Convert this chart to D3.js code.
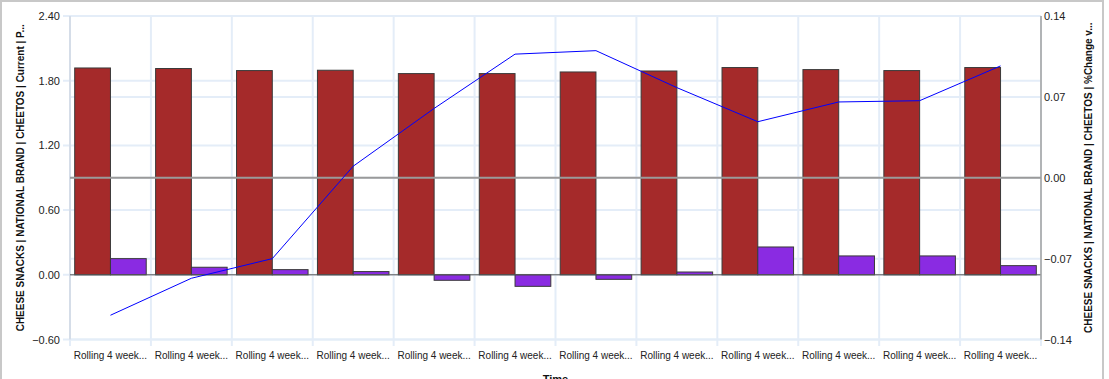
<!DOCTYPE html>
<html><head><meta charset="utf-8">
<script src="https://cdn.jsdelivr.net/npm/d3@7"></script>
<style>
html,body{margin:0;padding:0;background:#fff;overflow:hidden;}
svg{display:block;font-family:"Liberation Sans",Arial,sans-serif;}
</style></head>
<body><svg id="c" width="1109" height="379"></svg>
<script>
const categories = ["Rolling 4 week...","Rolling 4 week...","Rolling 4 week...","Rolling 4 week...","Rolling 4 week...","Rolling 4 week...","Rolling 4 week...","Rolling 4 week...","Rolling 4 week...","Rolling 4 week...","Rolling 4 week...","Rolling 4 week..."];
const currentPrice = [1.918,1.913,1.894,1.897,1.866,1.866,1.881,1.890,1.922,1.903,1.894,1.922];
const changeBars = [0.150,0.070,0.048,0.030,-0.051,-0.107,-0.042,0.026,0.258,0.175,0.175,0.085];
const pctChange = [-0.119,-0.087,-0.070,0.010,0.060,0.107,0.110,0.078,0.0485,0.0656,0.0667,0.0968];
const leftTicks = [-0.60,0.00,0.60,1.20,1.80,2.40];
const rightTicks = [-0.14,-0.07,0.00,0.07,0.14];
const leftTitle = "CHEESE SNACKS | NATIONAL BRAND | CHEETOS | Current | P...";
const rightTitle = "CHEESE SNACKS | NATIONAL BRAND | CHEETOS | %Change v...";
const xTitle = "Time";

const svg = d3.select("#c");
const L = 70, R = 1041, T = 16, B = 339.5;
const idx = categories.map((d,i)=>i);
const x = d3.scaleBand().domain(idx).range([L,R]).paddingInner(0.116).paddingOuter(0.058);
const xs = d3.scaleBand().domain([0,1]).range([0,x.bandwidth()]);
const yL = d3.scaleLinear().domain([-0.6,2.4]).range([B,T]);
const yR = d3.scaleLinear().domain([-0.14,0.14]).range([B,T]);
const step = (R-L)/categories.length;

// frame
svg.append("rect").attr("x",1).attr("y",1).attr("width",1102).attr("height",400)
  .attr("fill","none").attr("stroke","#c8c8c8").attr("stroke-width",2);

const grid = svg.append("g").attr("stroke","#e4edf8").attr("stroke-width",2);
leftTicks.forEach(t=>grid.append("line").attr("x1",63).attr("x2",R).attr("y1",yL(t)).attr("y2",yL(t)));
rightTicks.forEach(t=>grid.append("line").attr("x1",L).attr("x2",R).attr("y1",yR(t)).attr("y2",yR(t)));
for(let i=0;i<=categories.length;i++){
  const xx = L + i*step;
  grid.append("line").attr("x1",xx).attr("x2",xx).attr("y1",T).attr("y2",346);
}
// left axis line
svg.append("line").attr("x1",L).attr("x2",L).attr("y1",T).attr("y2",B).attr("stroke","#d5dde8").attr("stroke-width",2);

// bars
const g = svg.append("g");
g.selectAll("rect.cur").data(currentPrice).join("rect")
  .attr("x",(d,i)=>x(i)+xs(0)).attr("width",xs.bandwidth())
  .attr("y",d=>yL(Math.max(0,d))).attr("height",d=>Math.abs(yL(d)-yL(0)))
  .attr("fill","#a52a2a").attr("stroke","#3a3a3a").attr("stroke-width",1);
g.selectAll("rect.chg").data(changeBars).join("rect")
  .attr("x",(d,i)=>x(i)+xs(1)).attr("width",xs.bandwidth())
  .attr("y",d=>yL(Math.max(0,d))).attr("height",d=>Math.abs(yL(d)-yL(0)))
  .attr("fill","#8a2be2").attr("stroke","#3a3a3a").attr("stroke-width",1);

// baseline left zero
svg.append("line").attr("x1",L).attr("x2",R).attr("y1",yL(0)).attr("y2",yL(0)).attr("stroke","#555").attr("stroke-width",1);
// right zero line
svg.append("line").attr("x1",L).attr("x2",R).attr("y1",yR(0)).attr("y2",yR(0)).attr("stroke","#9a9a9a").attr("stroke-width",2);

// line
const line = d3.line().x((d,i)=>x(i)+x.bandwidth()/2).y(d=>yR(d));
svg.append("path").datum(pctChange).attr("d",line).attr("fill","none").attr("stroke","#0000ff").attr("stroke-width",1);

// right axis line
svg.append("line").attr("x1",R).attr("x2",R).attr("y1",T).attr("y2",B).attr("stroke","#a0a0a0").attr("stroke-width",1.5);

// tick labels
const axL = d3.axisLeft(yL).tickValues(leftTicks).tickFormat(d3.format(".2f")).tickSize(0).tickPadding(10);
const gl = svg.append("g").attr("transform",`translate(${L},0)`).call(axL);
gl.select(".domain").remove();
gl.selectAll("text").attr("font-size",11).attr("fill","#222").attr("font-family","Liberation Sans, Arial, sans-serif");
const axR = d3.axisRight(yR).tickValues(rightTicks).tickFormat(d3.format(".2f")).tickSize(0).tickPadding(3);
const gr = svg.append("g").attr("transform",`translate(${R},0)`).call(axR);
gr.select(".domain").remove();
gr.selectAll("text").attr("font-size",11).attr("fill","#222").attr("font-family","Liberation Sans, Arial, sans-serif");

const axB = d3.axisBottom(x).tickFormat(i=>categories[i]).tickSize(0).tickPadding(12);
const gb = svg.append("g").attr("transform",`translate(0,${B})`).call(axB);
gb.select(".domain").remove();
gb.selectAll("text").attr("font-size",10).attr("fill","#222").attr("font-family","Liberation Sans, Arial, sans-serif");

// titles
svg.append("text").attr("transform",`translate(24,${(T+B)/2}) rotate(-90)`).attr("text-anchor","middle")
  .attr("font-size",10).attr("font-weight","bold").attr("fill","#111").text(leftTitle);
svg.append("text").attr("transform",`translate(1092,${(T+B)/2}) rotate(-90)`).attr("text-anchor","middle")
  .attr("font-size",10).attr("font-weight","bold").attr("fill","#111").text(rightTitle);
svg.append("text").attr("x",(L+R)/2).attr("y",383).attr("text-anchor","middle").attr("font-size",11).attr("font-weight","bold").attr("fill","#111").text(xTitle);
</script></body></html>
